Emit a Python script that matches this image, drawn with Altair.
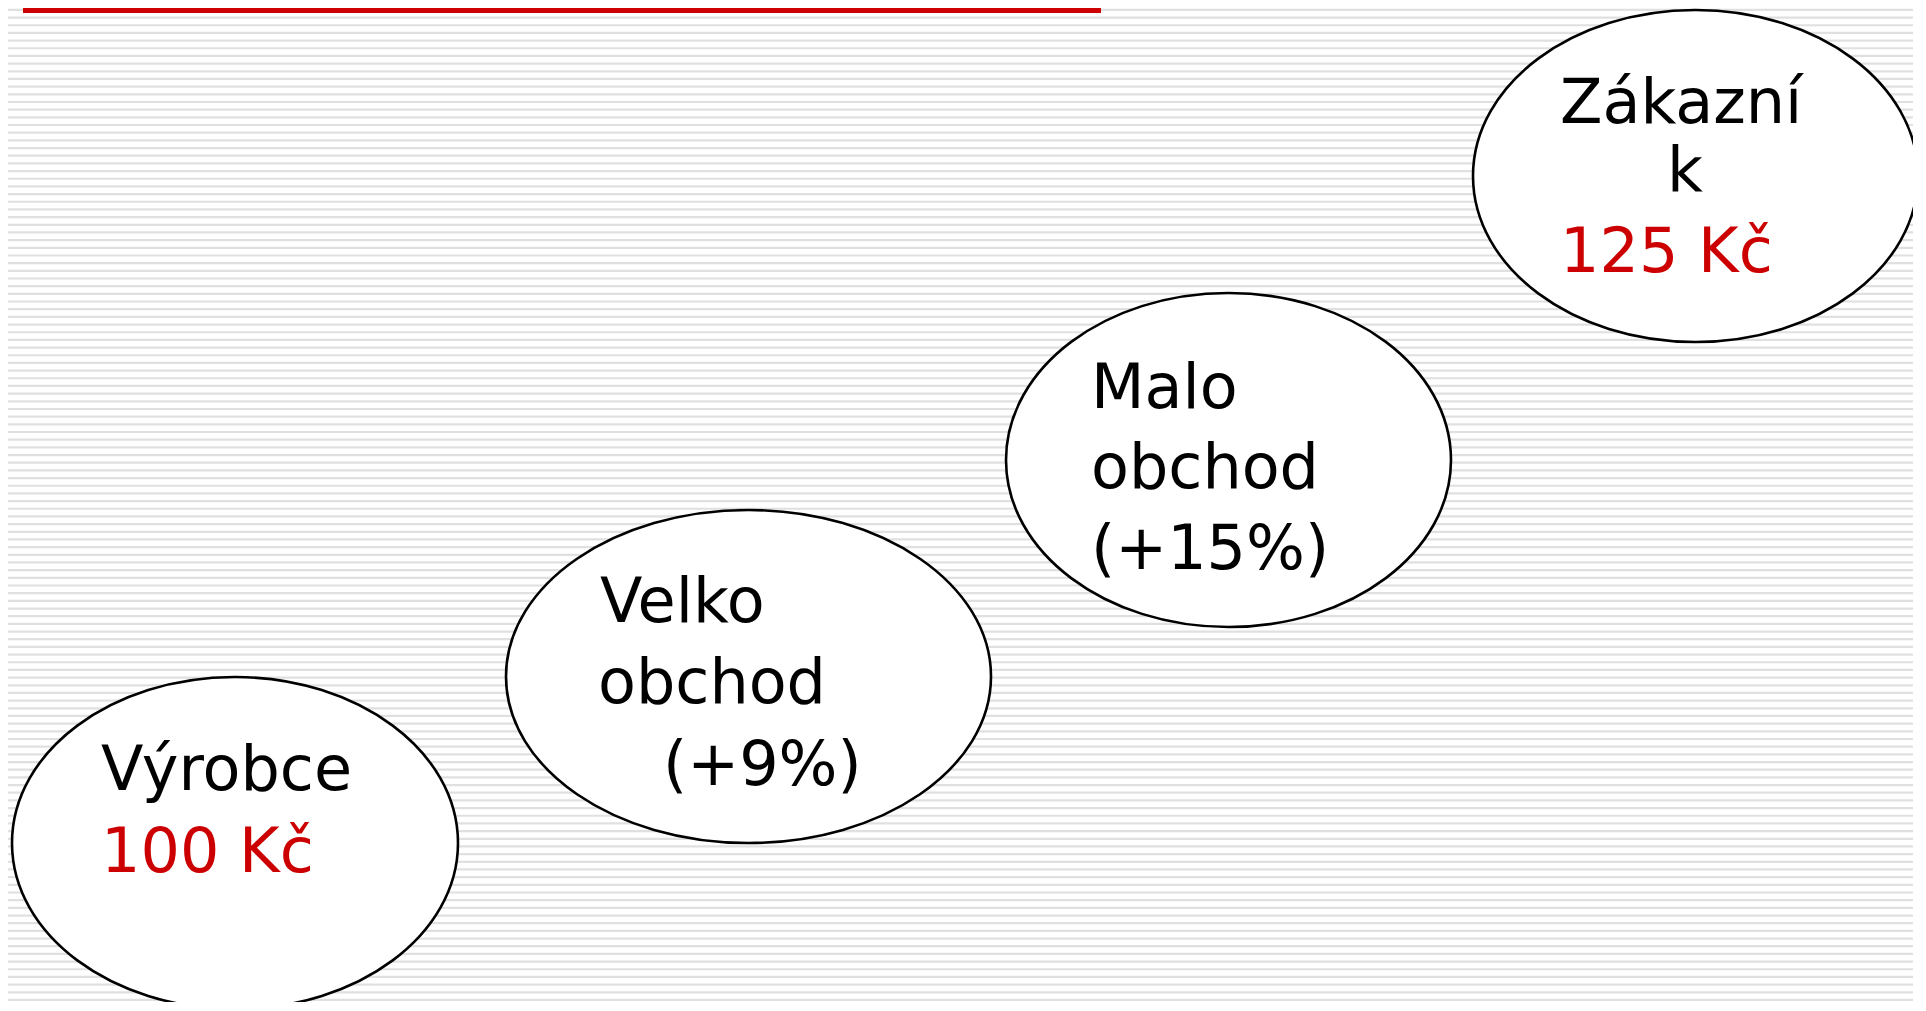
import altair as alt
import pandas as pd
import numpy as np

# plot area in page pixels (page has an 8px margin)
X0, Y0 = 8, 8
W, H = 1905, 994

# ---- data: the four stages of the price chain (ellipse centre / radii in slide px)
names = ["Výrobce", "Velko obchod", "Malo obchod", "Zákazník"]
cx = [235, 748.5, 1228.5, 1695.5]
cy = [843, 676.5, 460, 176]
rx = [223, 242.5, 222.5, 222.5]
ry = [166, 166.5, 167, 166]

# ---- text lines inside the ellipses
line_text = ["Výrobce", "100 Kč",
             "Velko", "obchod", "(+9%)",
             "Malo", "obchod", "(+15%)",
             "Zákazní", "k", "125 Kč"]
line_x = [101, 101,
          600, 598, 663,
          1091, 1091, 1091,
          1560, 1667, 1560]
line_y = [790, 871.5,
          621.5, 703, 785,
          407.5, 488.3, 568.5,
          123.3, 190.5, 271.5]
line_color = ["#000000", "#CC0000",
              "#000000", "#000000", "#000000",
              "#000000", "#000000", "#000000",
              "#000000", "#000000", "#CC0000"]

# ---- decoration: title rule and striped background
rule_x = [23, 1101]
rule_y = [10.5]
stripe_start, stripe_step = 2.2, 7.675

xs = alt.Scale(domain=[X0, X0 + W], nice=False, zero=False)
ys = alt.Scale(domain=[Y0, Y0 + H], reverse=True, nice=False, zero=False)

stripes = pd.DataFrame({"y": np.arange(stripe_start, 1012, stripe_step)})
stripe_layer = alt.Chart(stripes).mark_rule(color="#E0E0E0", strokeWidth=2.2).encode(
    y=alt.Y("y:Q", scale=ys, axis=None),
    x=alt.value(0),
    x2=alt.value(W),
)

rule_df = pd.DataFrame({"x1": [rule_x[0]], "x2": [rule_x[1]], "y": rule_y})
rule_layer = alt.Chart(rule_df).mark_rule(color="#CC0000", strokeWidth=5).encode(
    x=alt.X("x1:Q", scale=xs, axis=None),
    x2="x2:Q",
    y=alt.Y("y:Q", scale=ys, axis=None),
)

paths = []
for a, b in zip(rx, ry):
    k = round(b / a, 4)
    paths.append(f"M -1 0 A 1 {k} 0 1 1 1 0 A 1 {k} 0 1 1 -1 0 Z")

ell = pd.DataFrame({
    "name": names, "cx": cx, "cy": cy,
    "size": [(2 * a) ** 2 for a in rx],
})
ellipse_layer = alt.Chart(ell).mark_point(
    filled=True, fill="white", stroke="black", strokeWidth=2.6,
    opacity=1, fillOpacity=1, strokeOpacity=1,
).encode(
    x=alt.X("cx:Q", scale=xs, axis=None),
    y=alt.Y("cy:Q", scale=ys, axis=None),
    size=alt.Size("size:Q", scale=None),
    shape=alt.Shape("name:N", scale=alt.Scale(domain=names, range=paths), legend=None),
)

txt = pd.DataFrame({"t": line_text, "x": line_x, "y": line_y, "c": line_color})
text_layer = alt.Chart(txt).mark_text(
    align="left", baseline="alphabetic", font="DejaVu Sans", fontSize=62,
).encode(
    x=alt.X("x:Q", scale=xs, axis=None),
    y=alt.Y("y:Q", scale=ys, axis=None),
    text="t:N",
    color=alt.Color("c:N", scale=None),
)

chart = alt.layer(stripe_layer, rule_layer, ellipse_layer, text_layer).properties(
    width=W, height=H, padding=0,
    autosize=alt.AutoSizeParams(type="none"),
    background="white",
).configure_view(stroke=None)

chart.save("out.html", embed_options={"renderer": "svg", "actions": False})
